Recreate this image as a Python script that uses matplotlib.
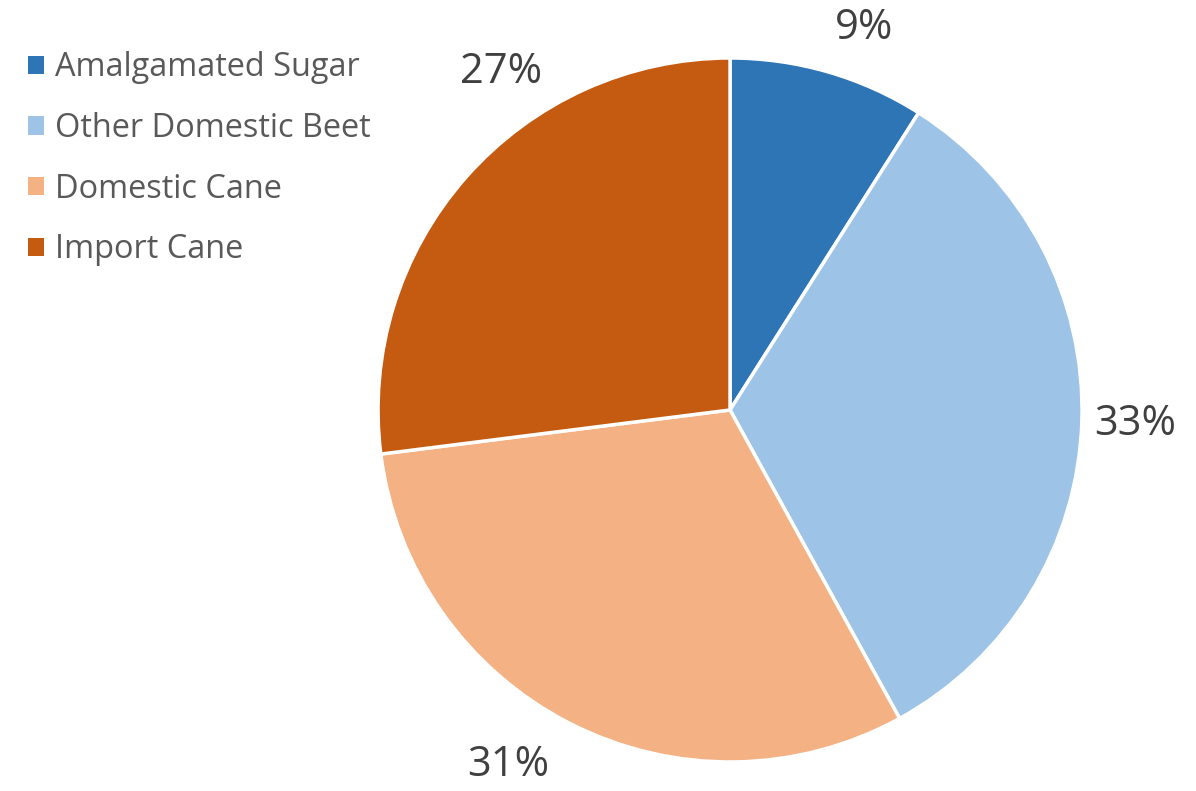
import matplotlib
matplotlib.use("Agg")
import matplotlib.pyplot as plt
from matplotlib.patches import Patch

categories = ["Amalgamated Sugar", "Other Domestic Beet", "Domestic Cane", "Import Cane"]
shares = [9, 33, 31, 27]
colors = ["#2E75B6", "#9DC3E6", "#F4B183", "#C55A11"]

# where Excel put the percentage labels (in pie radius units)
label_pos = [(0.38, 1.085), (1.15, -0.04), (-0.63, -1.01), (-0.65, 0.96)]

plt.rcParams["font.family"] = ["Open Sans", "DejaVu Sans"]

fig = plt.figure(figsize=(11.96, 7.91), dpi=100)
ax = fig.add_axes([0.6104 - 0.2943, 0.4817 - 0.445, 0.5886, 0.890])

wedges, texts, autotexts = ax.pie(
    shares, colors=colors, startangle=90, counterclock=False,
    autopct="%.0f%%", pctdistance=1.15,
    wedgeprops=dict(edgecolor="white", linewidth=2.5),
    textprops=dict(fontsize=30, color="#404040"),
)
for t, (x, y) in zip(autotexts, label_pos):
    t.set_position((x, y))
    t.set_ha("center")
    t.set_va("center")
ax.set_aspect("equal")
ax.set_xlim(-1, 1)
ax.set_ylim(-1, 1)

handles = [Patch(facecolor=c, edgecolor="none") for c in colors]
fig.legend(handles, categories, loc="upper left", bbox_to_anchor=(-0.001, 0.972),
           frameon=False, fontsize=23.4, labelcolor="#595959",
           handlelength=0.49, handleheight=0.49, handletextpad=0.33,
           labelspacing=0.85)

fig.savefig("out.png", dpi=100)
